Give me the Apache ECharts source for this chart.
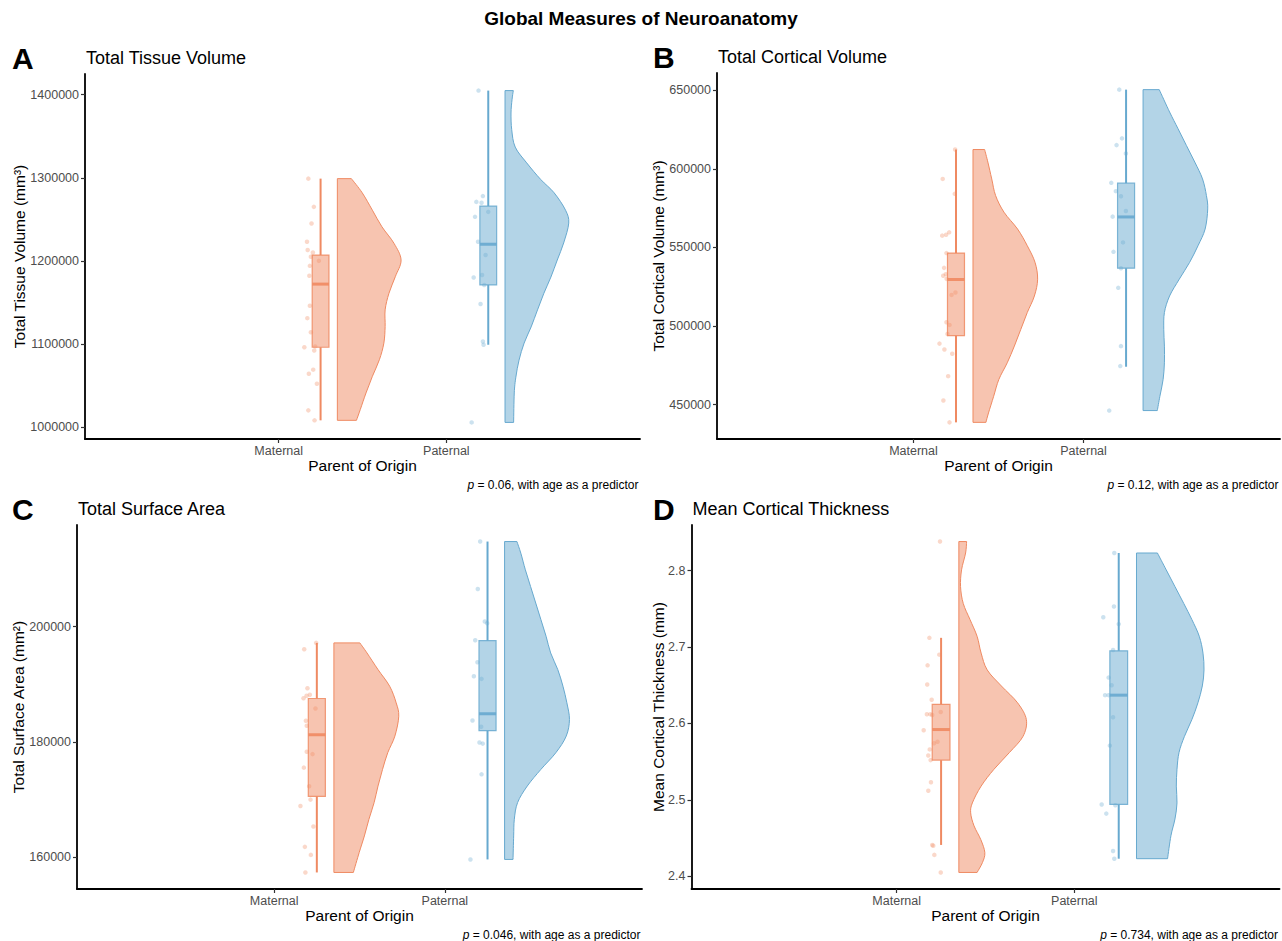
<!DOCTYPE html>
<html><head><meta charset="utf-8">
<script src="https://cdn.jsdelivr.net/npm/echarts@6/dist/echarts.min.js"></script>
<style>html,body{margin:0;padding:0;background:#fff}#chart{width:1282px;height:941px}</style>
</head><body><div id="chart"></div>
<script>
const categories = ['Maternal', 'Paternal'];

// ---- Panel A: Total Tissue Volume ----
const tvTicks = [1000000, 1100000, 1200000, 1300000, 1400000];
const tvMatVals = [1299000,1265000,1245000,1223000,1213000,1210000,1205000,1200000,1194000,1182000,1146000,1131000,1114000,1097000,1096000,1092000,1069000,1064000,1052000,1020000,1008000];
const tvMatJit = [-0.023,0.010,-0.004,-0.031,-0.027,0.004,-0.008,0.040,-0.014,-0.017,-0.014,-0.029,-0.008,0.018,-0.047,0.012,0.006,-0.020,0.028,-0.023,0.014];
const tvPatVals = [1405000,1278000,1271000,1270000,1259000,1253000,1223000,1207000,1183000,1180000,1171000,1148000,1103000,1099000,1005500];
const tvPatJit = [-0.008,0.018,-0.021,0.010,0.050,-0.029,-0.011,0.034,0.013,-0.037,0.026,0.004,0.018,0.022,-0.049];
const tvMatBox = [1008000,1096000,1172000,1207000,1299000];
const tvPatBox = [1099000,1171000,1220000,1266000,1405000];
const tvMatVioY = [1299000,1282000,1261000,1241000,1221000,1201000,1181000,1161000,1141000,1121000,1101000,1081000,1061000,1041000,1021000,1008000];
const tvMatVioD = [0.22,0.39,0.55,0.70,0.89,1.00,0.91,0.81,0.75,0.75,0.73,0.66,0.55,0.45,0.36,0.30];
const tvPatVioY = [1405000,1394000,1378000,1358000,1337000,1318000,1298000,1282000,1261000,1245500,1221500,1201000,1180500,1161000,1141000,1120500,1101000,1080500,1060000,1041000,1005500];
const tvPatVioD = [0.13,0.11,0.094,0.105,0.16,0.34,0.56,0.77,0.95,1.00,0.92,0.82,0.72,0.61,0.51,0.41,0.30,0.22,0.17,0.145,0.135];

// ---- Panel B: Total Cortical Volume ----
const cvTicks = [450000, 500000, 550000, 600000, 650000];
const cvMatVals = [612300,593600,584100,559600,558100,557500,546400,537000,533000,532000,530000,521300,519800,502400,500700,495000,488800,485100,482400,468100,452600,438700];
const cvMatJit = [0.045,-0.028,0.043,0.010,-0.008,-0.031,-0.006,-0.020,-0.010,-0.025,-0.005,0.047,0.024,-0.006,0.012,0.000,-0.047,-0.018,0.028,0.004,-0.024,0.012];
const cvPatVals = [650400,619400,615100,609800,591100,585800,582600,573200,569600,553200,547200,536800,524300,487200,474500,446200];
const cvPatJit = [0.010,0.026,-0.006,0.049,-0.037,-0.010,0.020,0.049,-0.029,0.032,-0.024,0.020,0.004,0.020,0.016,-0.049];
const cvMatBox = [438700,493900,529600,546400,612300];
const cvPatBox = [474100,536800,569400,590900,650400];
const cvMatVioY = [612300,604300,593600,583000,572400,561700,551100,540500,529800,519100,508600,497900,487200,476600,466000,455300,444700,438700];
const cvMatVioD = [0.18,0.23,0.29,0.35,0.48,0.69,0.84,0.96,1.00,0.95,0.84,0.74,0.64,0.53,0.40,0.32,0.24,0.20];
const cvPatVioY = [650400,636200,625600,614900,604300,593600,583000,574500,561700,551100,540500,529800,519100,508600,497900,487200,476600,466000,455300,446200];
const cvPatVioD = [0.25,0.41,0.54,0.67,0.80,0.92,0.98,1.00,0.96,0.85,0.72,0.56,0.41,0.33,0.32,0.33,0.33,0.31,0.26,0.22];

// ---- Panel C: Total Surface Area ----
const saTicks = [160000, 180000, 200000];
const saMatVals = [197180,196070,189310,188170,188000,187580,185800,183670,182800,178300,177880,175530,172290,169980,168880,165310,161780,160390,157340];
const saMatJit = [0.046,-0.024,-0.005,0.009,-0.010,-0.028,0.042,-0.014,-0.009,-0.009,0.025,-0.026,0.005,0.013,-0.046,0.030,-0.020,0.015,-0.017];
const saPatVals = [214770,206530,200900,200600,197630,193820,191390,190940,183720,182630,179900,179700,174370,159600];
const saPatJit = [0.007,-0.007,0.034,0.048,-0.022,-0.009,-0.030,0.015,-0.038,0.013,0.003,0.022,0.015,-0.050];
const saMatBox = [157340,170560,181240,187530,197180];
const saPatBox = [159600,181940,184880,197580,214770];
const saMatVioY = [197180,195440,192550,189660,186780,184460,181000,178120,175230,172340,169460,166570,163680,160800,157340];
const saMatVioD = [0.40,0.51,0.68,0.86,0.96,1.00,0.94,0.83,0.75,0.68,0.62,0.54,0.47,0.39,0.30];
const saPatVioY = [214770,212760,209870,206980,204100,201210,198320,195440,192550,189660,186780,183890,181000,178120,175230,172340,169460,166570,163680,159600];
const saPatVioD = [0.19,0.25,0.32,0.40,0.48,0.56,0.64,0.71,0.82,0.90,0.96,1.00,0.95,0.79,0.56,0.35,0.20,0.15,0.14,0.13];

// ---- Panel D: Mean Cortical Thickness ----
const ctTicks = [2.4, 2.5, 2.6, 2.7, 2.8];
const ctMatVals = [2.838,2.712,2.690,2.676,2.651,2.631,2.615,2.612,2.612,2.611,2.591,2.576,2.574,2.566,2.558,2.552,2.523,2.512,2.441,2.440,2.428,2.405];
const ctMatJit = [0.044,-0.016,0.040,-0.026,-0.028,-0.003,0.048,-0.030,-0.010,0.000,-0.048,0.030,0.010,-0.014,-0.022,-0.009,-0.007,-0.022,0.000,0.006,0.012,0.048];
const ctPatVals = [2.823,2.753,2.739,2.730,2.696,2.660,2.650,2.637,2.637,2.608,2.571,2.494,2.493,2.482,2.433,2.423];
const ctPatJit = [0.025,0.023,-0.037,0.050,0.018,-0.007,0.010,-0.027,-0.007,0.018,0.000,-0.046,0.031,-0.020,0.018,0.025];
const ctMatBox = [2.441,2.552,2.592,2.625,2.712];
const ctPatBox = [2.423,2.494,2.637,2.695,2.823];
const ctMatVioY = [2.838,2.823,2.801,2.779,2.757,2.736,2.714,2.692,2.670,2.649,2.627,2.605,2.583,2.562,2.540,2.518,2.496,2.483,2.466,2.448,2.431,2.418,2.405];
const ctMatVioD = [0.115,0.10,0.04,0.025,0.065,0.165,0.27,0.33,0.42,0.63,0.87,1.00,0.95,0.75,0.52,0.33,0.20,0.175,0.225,0.325,0.385,0.35,0.27];
const ctPatVioY = [2.823,2.801,2.779,2.757,2.736,2.714,2.692,2.670,2.649,2.627,2.605,2.583,2.562,2.540,2.518,2.496,2.475,2.453,2.423];
const ctPatVioD = [0.31,0.44,0.57,0.70,0.82,0.93,0.985,1.00,0.975,0.91,0.82,0.71,0.63,0.60,0.59,0.60,0.57,0.51,0.46];

const panelLetters = ['A', 'B', 'C', 'D'];
const panelTitles = ['Total Tissue Volume', 'Total Cortical Volume', 'Total Surface Area', 'Mean Cortical Thickness'];
const yTitles = ['Total Tissue Volume (mm³)', 'Total Cortical Volume (mm³)', 'Total Surface Area (mm²)', 'Mean Cortical Thickness (mm)'];
const pValues = ['0.06', '0.12', '0.046', '0.734'];
const xTitle = 'Parent of Origin';
const mainTitle = 'Global Measures of Neuroanatomy';

// ---- layout / style constants ----
const FONT = '"Liberation Sans", Arial, Helvetica, sans-serif';
const LINE = ['#EF8A62', '#67A9CF'];
const FILL = ['rgba(239,138,98,0.5)', 'rgba(103,169,207,0.5)'];
const PT = ['rgba(239,138,98,0.42)', 'rgba(103,169,207,0.42)'];
const BOXSTROKE = ['rgba(239,138,98,0.85)', 'rgba(103,169,207,0.85)'];
const JIT_CENTER = 0.2, BOX_OFF = 0.25, BOX_HALF = 0.05, VIO_OFF = 0.35, VIO_W = 0.38;
const XMIN = -0.155, XMAX = 3.155;
const gridRects = [
  {left: 85, top: 74, width: 555, height: 365},
  {left: 717, top: 73, width: 563, height: 366},
  {left: 77, top: 525, width: 565, height: 364},
  {left: 691.5, top: 525, width: 588, height: 364}
];
const yTitleX = [19, 658, 18.5, 658];

const panels = [
  {ticks: tvTicks, vals: [tvMatVals, tvPatVals], jit: [tvMatJit, tvPatJit], box: [tvMatBox, tvPatBox], vioY: [tvMatVioY, tvPatVioY], vioD: [tvMatVioD, tvPatVioD], fmt: v => String(Math.round(v))},
  {ticks: cvTicks, vals: [cvMatVals, cvPatVals], jit: [cvMatJit, cvPatJit], box: [cvMatBox, cvPatBox], vioY: [cvMatVioY, cvPatVioY], vioD: [cvMatVioD, cvPatVioD], fmt: v => String(Math.round(v))},
  {ticks: saTicks, vals: [saMatVals, saPatVals], jit: [saMatJit, saPatJit], box: [saMatBox, saPatBox], vioY: [saMatVioY, saPatVioY], vioD: [saMatVioD, saPatVioD], fmt: v => String(Math.round(v))},
  {ticks: ctTicks, vals: [ctMatVals, ctPatVals], jit: [ctMatJit, ctPatJit], box: [ctMatBox, ctPatBox], vioY: [ctMatVioY, ctPatVioY], vioD: [ctMatVioD, ctPatVioD], fmt: v => Number(v).toFixed(1)}
];

function yExtent(p) {
  const all = [].concat(p.vals[0], p.vals[1], p.box[0], p.box[1], p.vioY[0], p.vioY[1]);
  const lo = Math.min.apply(null, all), hi = Math.max.apply(null, all);
  const pad = (hi - lo) * 0.05;
  return [lo - pad, hi + pad];
}

function boxRender(p) {
  return function (params, api) {
    const g = params.dataIndex;
    const cat = api.value(0);
    const cx = cat + BOX_OFF;
    const b = [api.value(1), api.value(2), api.value(3), api.value(4), api.value(5)];
    const pMin = api.coord([cx, b[0]]), pQ1 = api.coord([cx, b[1]]), pMed = api.coord([cx, b[2]]), pQ3 = api.coord([cx, b[3]]), pMax = api.coord([cx, b[4]]);
    const l = api.coord([cx - BOX_HALF, b[2]])[0], r = api.coord([cx + BOX_HALF, b[2]])[0];
    return {type: 'group', children: [
      {type: 'line', shape: {x1: pMax[0], y1: pMax[1], x2: pQ3[0], y2: pQ3[1]}, style: {stroke: LINE[g], lineWidth: 2}},
      {type: 'line', shape: {x1: pQ1[0], y1: pQ1[1], x2: pMin[0], y2: pMin[1]}, style: {stroke: LINE[g], lineWidth: 2}},
      {type: 'rect', shape: {x: l, y: pQ3[1], width: r - l, height: pQ1[1] - pQ3[1]}, style: {fill: FILL[g], stroke: BOXSTROKE[g], lineWidth: 1.2}},
      {type: 'line', shape: {x1: l, y1: pMed[1], x2: r, y2: pMed[1]}, style: {stroke: LINE[g], lineWidth: 3, opacity: 0.9}}
    ]};
  };
}

function violinRender(p) {
  return function (params, api) {
    const g = params.dataIndex;
    const cat = api.value(0);
    const ys = p.vioY[g], ds = p.vioD[g];
    const base = cat + VIO_OFF;
    const pts = ys.map((v, k) => api.coord([base + ds[k] * VIO_W, v]));
    const top = api.coord([base, ys[0]]);
    const bot = api.coord([base, ys[ys.length - 1]]);
    let d = 'M' + top[0] + ',' + top[1] + ' L' + pts[0][0] + ',' + pts[0][1];
    const n = pts.length;
    for (let k = 0; k < n - 1; k++) {
      const p0 = pts[Math.max(k - 1, 0)], p1 = pts[k], p2 = pts[k + 1], p3 = pts[Math.min(k + 2, n - 1)];
      const c1 = [p1[0] + (p2[0] - p0[0]) / 6, p1[1] + (p2[1] - p0[1]) / 6];
      const c2 = [p2[0] - (p3[0] - p1[0]) / 6, p2[1] - (p3[1] - p1[1]) / 6];
      d += ' C' + c1[0] + ',' + c1[1] + ' ' + c2[0] + ',' + c2[1] + ' ' + p2[0] + ',' + p2[1];
    }
    d += ' L' + bot[0] + ',' + bot[1] + ' Z';
    return {type: 'path', shape: {pathData: d}, style: {fill: FILL[g], stroke: LINE[g], lineWidth: 1}};
  };
}

const grid = [], xAxis = [], yAxis = [], series = [], graphic = [];
panels.forEach((p, i) => {
  grid.push(Object.assign({containLabel: false}, gridRects[i]));
  xAxis.push({
    type: 'value', gridIndex: i, min: XMIN, max: XMAX,
    axisLine: {show: true, onZero: false, lineStyle: {color: '#000', width: 1.8}},
    axisTick: {show: true, customValues: [1, 2], length: 4, lineStyle: {color: '#333', width: 1.2}},
    axisLabel: {customValues: [1, 2], formatter: v => categories[Math.round(v) - 1], color: '#4D4D4D', fontSize: 12.5, fontFamily: FONT, margin: 5},
    splitLine: {show: false}
  });
  const ext = yExtent(p);
  yAxis.push({
    type: 'value', gridIndex: i, min: ext[0], max: ext[1],
    axisLine: {show: true, onZero: false, lineStyle: {color: '#000', width: 1.8}},
    axisTick: {show: true, customValues: p.ticks, length: 4, lineStyle: {color: '#333', width: 1.2}},
    axisLabel: {customValues: p.ticks, formatter: p.fmt, color: '#4D4D4D', fontSize: 12.5, fontFamily: FONT, margin: 6},
    splitLine: {show: false}
  });
  [0, 1].forEach(g => {
    series.push({
      type: 'scatter', xAxisIndex: i, yAxisIndex: i, symbol: 'circle', symbolSize: 4.5,
      itemStyle: {color: PT[g]}, silent: true, z: 2,
      data: p.vals[g].map((v, k) => [g + 1 + JIT_CENTER + p.jit[g][k], v])
    });
  });
  series.push({
    type: 'custom', xAxisIndex: i, yAxisIndex: i, z: 3, silent: true,
    renderItem: boxRender(p),
    data: [[1].concat(p.box[0]), [2].concat(p.box[1])]
  });
  series.push({
    type: 'custom', xAxisIndex: i, yAxisIndex: i, z: 3, silent: true,
    renderItem: violinRender(p),
    data: [[1, 0], [2, 1]]
  });

  const R = gridRects[i];
  const cy = R.top + R.height / 2, cx = R.left + R.width / 2, bottom = R.top + R.height;
  const headY = R.top - 16;
  graphic.push({type: 'text', x: (i % 2 === 0 ? 12 : 653), y: headY, style: {text: panelLetters[i], font: 'bold 30px ' + FONT, fill: '#000', align: 'left', verticalAlign: 'middle'}});
  graphic.push({type: 'text', x: R.left + 1, y: headY, style: {text: panelTitles[i], font: '18px ' + FONT, fill: '#000', align: 'left', verticalAlign: 'middle'}});
  graphic.push({type: 'text', x: yTitleX[i], y: cy, rotation: Math.PI / 2, style: {text: yTitles[i], font: '15.5px ' + FONT, fill: '#000', align: 'center', verticalAlign: 'middle'}});
  graphic.push({type: 'text', x: cx, y: bottom + 26, style: {text: xTitle, font: '15.5px ' + FONT, fill: '#000', align: 'center', verticalAlign: 'middle'}});
  graphic.push({type: 'text', x: R.left + R.width - 1.5, y: bottom + 46, style: {
    text: '{i|p} = ' + pValues[i] + ', with age as a predictor', font: '12px ' + FONT, fill: '#000', align: 'right', verticalAlign: 'middle',
    rich: {i: {fontStyle: 'italic', fontSize: 12, fontFamily: FONT, fill: '#000'}}
  }});
});
graphic.push({type: 'text', x: 641, y: 18, style: {text: mainTitle, font: 'bold 19px ' + FONT, fill: '#000', align: 'center', verticalAlign: 'middle'}});

const chart = echarts.init(document.getElementById('chart'), null, {renderer: 'svg', width: 1282, height: 941});
chart.setOption({animation: false, backgroundColor: '#fff', grid, xAxis, yAxis, series, graphic});
</script>
</body></html>
